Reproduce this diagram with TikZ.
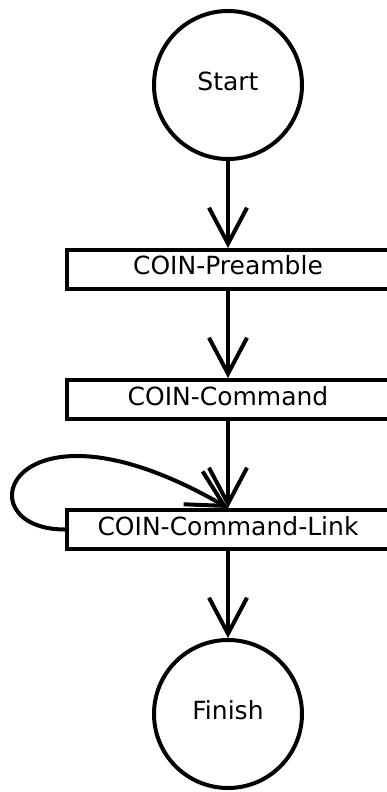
\documentclass[tikz,border=0pt]{standalone}
\usepackage{fontspec}
\setmainfont{DejaVu Sans}
\usetikzlibrary{positioning, arrows.meta}

\begin{document}
\begin{tikzpicture}[
        x=1pt, y=1pt,
        font=\fontsize{25}{30}\selectfont,
        node distance=87pt,
        line width=4pt,
        state/.style   ={draw, circle, minimum size=148pt, inner sep=0pt,
                         text depth=8pt},
        stepbox/.style ={draw, rectangle, minimum width=322pt, minimum height=39pt,
                         inner sep=0pt, text depth=8pt},
        arr/.style     ={-{Straight Barb[length=36pt, width=38pt]}}
    ]
      \useasboundingbox (0,0) rectangle (387,-792);

      % ===== FLOW =====
      \node[state]                  (start)    at (228,-85) {Start};
      \node[stepbox, below=of start]    (preamble) {COIN-Preamble};
      \node[stepbox, below=of preamble] (command)  {COIN-Command};
      \node[stepbox, below=of command]  (link)     {COIN-Command-Link};
      \node[state,   below=of link]     (finish)   {Finish};

      \draw[arr] (start)    -- (preamble);
      \draw[arr] (preamble) -- (command);
      \draw[arr] (command)  -- (link);
      \draw[arr] (link)     -- (finish);

      % self loop back onto the link box
      \draw[arr] (link.west) .. controls +(-105,0) and +(-218,126) .. (link.north);
\end{tikzpicture}
\end{document}
